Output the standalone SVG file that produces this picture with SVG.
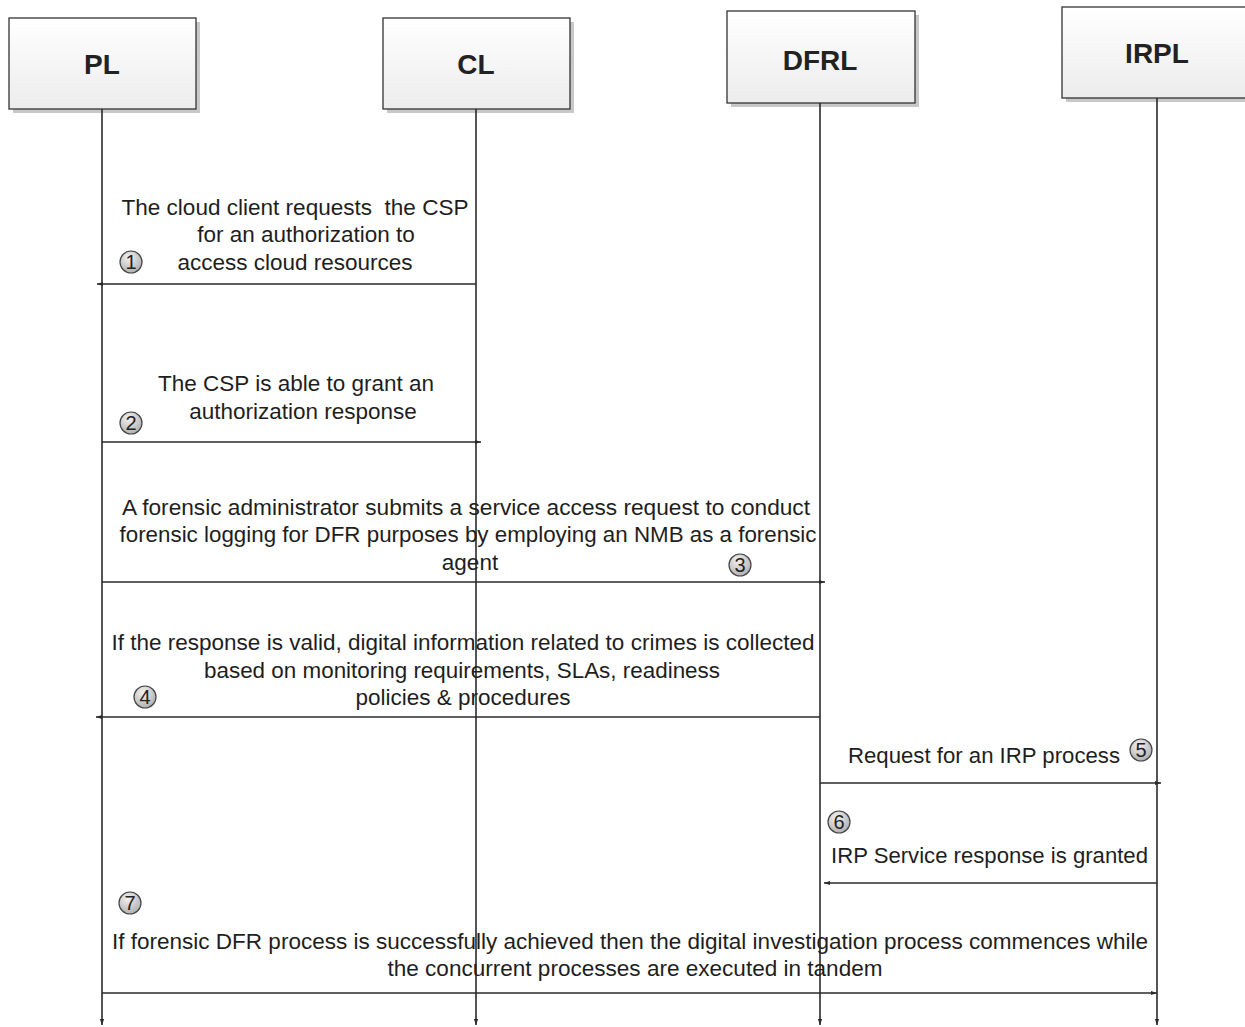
<svg xmlns="http://www.w3.org/2000/svg" width="1245" height="1027" viewBox="0 0 1245 1027">
  <style>
    .box { fill: url(#boxFill); stroke: #333; stroke-width: 1.3; }
    .shadow { fill: #c8c8c8; }
    .title { font-family: "Liberation Sans", Arial, sans-serif; font-weight: bold; font-size: 28px; fill: #222; text-anchor: middle; }
    .life { stroke: #2a2a2a; stroke-width: 1.6; fill: none; marker-end: url(#tip); }
    .msg { stroke: #2a2a2a; stroke-width: 1.6; fill: none; marker-end: url(#tip); }
    .lbl { font-family: "Liberation Sans", Arial, sans-serif; font-size: 22.5px; fill: #1e1e1e; text-anchor: middle; white-space: pre; }
    .lblL { font-family: "Liberation Sans", Arial, sans-serif; font-size: 22.5px; fill: #1e1e1e; }
    .badge circle { fill: url(#badgeFill); stroke: #444; stroke-width: 1.2; }
    .badge text { font-family: "Liberation Sans", Arial, sans-serif; font-size: 20px; fill: #222; text-anchor: middle; }
  </style>
  <defs>
    <linearGradient id="boxFill" x1="0" y1="0" x2="0" y2="1">
      <stop offset="0" stop-color="#ffffff"/>
      <stop offset="1" stop-color="#ececec"/>
    </linearGradient>
    <radialGradient id="badgeFill" cx="0.4" cy="0.3" r="0.8">
      <stop offset="0" stop-color="#f2f2f2"/>
      <stop offset="1" stop-color="#a8a8a8"/>
    </radialGradient>
    <marker id="tip" viewBox="0 0 10 10" refX="10" refY="5" markerWidth="7" markerHeight="6" markerUnits="userSpaceOnUse" orient="auto">
      <path d="M0,1.5 L10,5 L0,8.5 z" fill="#2a2a2a"/>
    </marker>
  </defs>

  <!-- lifeline heads -->
  <g id="node-PL">
    <rect class="shadow" x="13" y="22" width="187" height="91"/>
    <rect class="box" x="9" y="18" width="187" height="91"/>
    <text class="title" x="102" y="74">PL</text>
  </g>
  <g id="node-CL">
    <rect class="shadow" x="387" y="22" width="187" height="91"/>
    <rect class="box" x="383" y="18" width="187" height="91"/>
    <text class="title" x="476" y="74">CL</text>
  </g>
  <g id="node-DFRL">
    <rect class="shadow" x="731" y="15" width="188" height="92"/>
    <rect class="box" x="727" y="11" width="188" height="92"/>
    <text class="title" x="820" y="70">DFRL</text>
  </g>
  <g id="node-IRPL">
    <rect class="shadow" x="1066" y="11" width="190" height="91"/>
    <rect class="box" x="1062" y="7" width="190" height="91"/>
    <text class="title" x="1157" y="63">IRPL</text>
  </g>

  <!-- lifelines and messages -->
  <g id="connectors">
    <line class="life" x1="102" y1="109" x2="102" y2="1025"/>
    <line class="life" x1="476" y1="109" x2="476" y2="1025"/>
    <line class="life" x1="820" y1="103" x2="820" y2="1025"/>
    <line class="life" x1="1157" y1="98" x2="1157" y2="1025"/>

    <line class="msg" x1="476" y1="284" x2="97" y2="284"/>
    <line class="msg" x1="102" y1="442" x2="481" y2="442"/>
    <line class="msg" x1="102" y1="582" x2="825" y2="582"/>
    <line class="msg" x1="820" y1="717" x2="96" y2="717"/>
    <line class="msg" x1="820" y1="783" x2="1161" y2="783"/>
    <line class="msg" x1="1157" y1="883" x2="824" y2="883"/>
    <line class="msg" x1="102" y1="993" x2="1157" y2="993"/>
  </g>

  <!-- message labels -->
  <g id="label-1">
    <text class="lbl" x="295" y="215" xml:space="preserve" textLength="347" lengthAdjust="spacingAndGlyphs">The cloud client requests  the CSP</text>
    <text class="lbl" x="306" y="242">for an authorization to</text>
    <text class="lbl" x="295" y="270">access cloud resources</text>
  </g>
  <g id="label-2">
    <text class="lbl" x="296" y="391">The CSP is able to grant an</text>
    <text class="lbl" x="303" y="419">authorization response</text>
  </g>
  <g id="label-3">
    <text class="lbl" x="466" y="515" textLength="688" lengthAdjust="spacingAndGlyphs">A forensic administrator submits a service access request to conduct</text>
    <text class="lbl" x="468" y="542" textLength="697" lengthAdjust="spacingAndGlyphs">forensic logging for DFR purposes by employing an NMB as a forensic</text>
    <text class="lbl" x="470" y="570">agent</text>
  </g>
  <g id="label-4">
    <text class="lbl" x="463" y="650" textLength="703" lengthAdjust="spacingAndGlyphs">If the response is valid, digital information related to crimes is collected</text>
    <text class="lbl" x="462" y="678" textLength="516" lengthAdjust="spacingAndGlyphs">based on monitoring requirements, SLAs, readiness</text>
    <text class="lbl" x="463" y="705">policies &amp; procedures</text>
  </g>
  <g id="label-5">
    <text class="lblL" x="848" y="763" textLength="272" lengthAdjust="spacingAndGlyphs">Request for an IRP process</text>
  </g>
  <g id="label-6">
    <text class="lblL" x="831" y="863" textLength="317" lengthAdjust="spacingAndGlyphs">IRP Service response is granted</text>
  </g>
  <g id="label-7">
    <text class="lbl" x="630" y="949" textLength="1036" lengthAdjust="spacingAndGlyphs">If forensic DFR process is successfully achieved then the digital investigation process commences while</text>
    <text class="lbl" x="635" y="976" textLength="495" lengthAdjust="spacingAndGlyphs">the concurrent processes are executed in tandem</text>
  </g>

  <!-- step numbers -->
  <g class="badge" id="step-1"><circle cx="131" cy="262" r="11"/><text x="131" y="269">1</text></g>
  <g class="badge" id="step-2"><circle cx="131" cy="423" r="11"/><text x="131" y="430">2</text></g>
  <g class="badge" id="step-3"><circle cx="740" cy="565" r="11"/><text x="740" y="572">3</text></g>
  <g class="badge" id="step-4"><circle cx="145" cy="697" r="11"/><text x="145" y="704">4</text></g>
  <g class="badge" id="step-5"><circle cx="1141" cy="750" r="11"/><text x="1141" y="757">5</text></g>
  <g class="badge" id="step-6"><circle cx="839" cy="822" r="11"/><text x="839" y="829">6</text></g>
  <g class="badge" id="step-7"><circle cx="130" cy="903" r="11"/><text x="130" y="910">7</text></g>
</svg>
